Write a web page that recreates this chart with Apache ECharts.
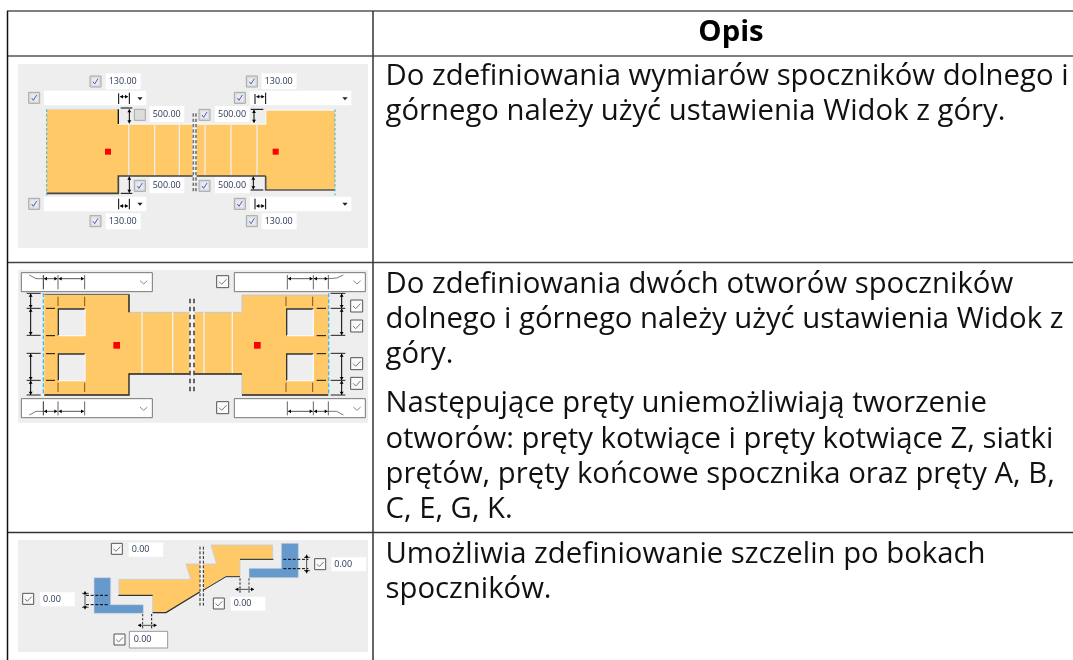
<!DOCTYPE html>
<html><head><meta charset="utf-8">
<style>html,body{margin:0;padding:0;background:#fff}#c{width:1073px;height:660px}</style>
<script src="https://cdn.jsdelivr.net/npm/echarts@6/dist/echarts.min.js"></script></head>
<body><div id="c"></div>
<script>
const headerLabel = 'Opis';
const row1Lines = ['Do zdefiniowania wymiarów spoczników dolnego i','górnego należy użyć ustawienia Widok z góry.'];
const row2LinesA = ['Do zdefiniowania dwóch otworów spoczników','dolnego i górnego należy użyć ustawienia Widok z','góry.'];
const row2LinesB = ['Następujące pręty uniemożliwiają tworzenie','otworów: pręty kotwiące i pręty kotwiące Z, siatki','prętów, pręty końcowe spocznika oraz pręty A, B,','C, E, G, K.'];
const row3Lines = ['Umożliwia zdefiniowanie szczelin po bokach','spoczników.'];
const widthLabel = '130.00', depthLabel = '500.00', gapLabel = '0.00';

const FONT = '"Open Sans"';
const chart = echarts.init(document.getElementById('c'), null, {renderer:'canvas'});
const pts = a => ({points:a});
function rect(x,y,w,h,fill,stroke,lw){return {type:'rect',shape:{x,y,width:w,height:h},style:{fill:fill||'none',stroke:stroke||null,lineWidth:lw||0},silent:true};}
function ln(x1,y1,x2,y2,c,lw,dash){return {type:'line',shape:{x1,y1,x2,y2},style:{stroke:c||'#000',lineWidth:lw||3,lineDash:dash||null},silent:true};}
function poly(a,fill,stroke,lw){return {type:'polygon',shape:pts(a),style:{fill:fill||'none',stroke:stroke||null,lineWidth:lw||0},silent:true};}
function pl(a,c,lw){return {type:'polyline',shape:pts(a),style:{fill:'none',stroke:c||'#000',lineWidth:lw||3},silent:true};}
function txt(x,y,s,size,color,weight,align){return {type:'text',x,y,style:{text:s,font:(weight||'normal')+' '+size+'px '+FONT,fill:color||'#000',align:align||'left',verticalAlign:'middle'},silent:true};}
function arrowH(x,y,dir,s){s=s||9;return poly([[x,y],[x-dir*s,y-s*0.65],[x-dir*s,y+s*0.65]],'#000');}
function arrowV(x,y,dir,s){s=s||9;return poly([[x,y],[x-s*0.65,y-dir*s],[x+s*0.65,y-dir*s]],'#000');}
function dimV(x,y1,y2,lw){return [ln(x,y1,x,y2,'#000',lw||3),arrowV(x,y1,-1),arrowV(x,y2,1)];}
function dimH(x1,x2,y,lw){return [ln(x1,y,x2,y,'#000',lw||3),arrowH(x1,y,-1),arrowH(x2,y,1)];}
function checkBlue(x,y,on){const e=[rect(x,y,33,33,'#dcdcdc','#a8a8a8',3)];
  if(on!==false){e.push(rect(x+6,y+6,21,21,'#e9eaf2'));e.push(pl([[x+9,y+17],[x+14,y+24],[x+24,y+8]],'#4a62b0',3));}return e;}
function checkGray(x,y,s){s=s||36;return [rect(x,y,s,s,'#fafafa','#555',3),pl([[x+s*0.2,y+s*0.5],[x+s*0.42,y+s*0.72],[x+s*0.82,y+s*0.3]],'#777',3)];}
function input(x,y,w,h,s,tx){return [rect(x,y,w,h,'#fff'),txt(tx||x+9,y+h/2,s,27,'#2a3a55')];}
function chevron(x,y){return pl([[x-11,y-5],[x,y+5],[x+11,y-5]],'#888',3);}
function tri(x,y){return poly([[x-8,y-4],[x+8,y-4],[x,y+5]],'#222');}
function group(ox,oy,children){return {type:'group',x:ox,y:oy,scaleX:1/3,scaleY:1/3,children:children.flat(3),silent:true};}

// ---------- row 1 diagram ----------
const d1=[];
d1.push(rect(54,42,1050,552,'#eeeeee'));
d1.push(poly([[140,178],[355,178],[355,222],[578,222],[578,378],[355,378],[355,430],[140,430]],'#fec966'));
d1.push(poly([[590,222],[797,222],[797,180],[1005,180],[1005,420],[797,420],[797,378],[590,378]],'#fec966'));
d1.push(pl([[140,178],[355,178]],'#d8d8d8',3),pl([[355,222],[578,222]],'#f6f6f6',4),pl([[590,222],[797,222],[797,180],[1005,180]],'#f6f6f6',4));
[386,464,538,615,693,771].forEach(x=>d1.push(ln(x,222,x,378,'#ececec',4)));
d1.push(rect(578,186,12,240,'#f4f4f4'));
d1.push(ln(580,190,580,426,'#777',5,[10,6]),ln(588,190,588,426,'#777',5,[10,6]));
d1.push(ln(355,178,355,222,'#111',4));
d1.push(pl([[140,430],[355,430],[355,378],[578,378]],'#444',5),pl([[590,378],[797,378]],'#444',5),pl([[797,378],[797,420],[1005,420]],'#555',5));
d1.push(ln(140,178,140,436,'#36b4e6',3,[8,6]),ln(1005,178,1005,436,'#36b4e6',3,[8,6]));
d1.push(rect(315,296,18,18,'#ff0000'),rect(818,296,18,18,'#ff0000'));
d1.push(ln(362,174,397,174,'#000',3),dimV(388,178,220),ln(362,430,397,430,'#000',3),dimV(388,380,428));
d1.push(ln(752,178,790,178,'#000',3),dimV(762,180,218),ln(752,420,790,420,'#000',3),dimV(760,380,418));
[[270,78],[739,78],[86,127],[703,127],[597,178],[403,391],[597,391],[86,445],[703,445],[270,497],[739,497]].forEach(p=>d1.push(checkBlue(p[0],p[1])));
d1.push(checkBlue(403,178,false));
[[317,70],[785,70],[317,490],[785,490]].forEach(p=>d1.push(input(p[0],p[1],105,48,widthLabel)));
[[449,168],[645,168],[449,382],[645,382]].forEach(p=>d1.push(input(p[0],p[1],104,48,depthLabel)));
[[132,122,307],[749,122,305],[132,440,307],[749,440,305]].forEach(p=>d1.push(rect(p[0],p[1],p[2],44,'#fff')));
[[420,146],[1035,146],[420,462],[1035,462]].forEach(p=>d1.push(tri(p[0],p[1])));
d1.push(ln(356,130,356,162,'#000',3),ln(388,128,388,162,'#000',3),dimH(360,384,140,2));
d1.push(ln(765,132,765,162,'#000',3),ln(797,128,797,162,'#000',3),dimH(769,793,140,2));
d1.push(ln(356,446,356,478,'#000',3),ln(388,446,388,478,'#000',3),dimH(360,384,468,2));
d1.push(ln(765,446,765,478,'#000',3),ln(797,446,797,478,'#000',3),dimH(769,793,468,2));

// ---------- row 2 diagram ----------
const d2=[];
d2.push(rect(54,30,1050,458,'#eeeeee'));
d2.push(poly([[133,105],[387,105],[387,157],[726,157],[726,105],[985,105],[985,405],[726,405],[726,342],[387,342],[387,405],[133,405]],'#fec966'));
d2.push(pl([[387,157],[726,157],[726,105],[985,105]],'#c8c8c8',3),pl([[726,342],[726,405]],'#c8c8c8',3));
[426,518,612,697].forEach(x=>d2.push(ln(x,157,x,342,'#f2f2f2',4)));
[[175,147],[175,282],[860,147],[860,282]].forEach(p=>{
  d2.push(rect(p[0],p[1],80,80,'#eeeeee'));
  d2.push(pl([[p[0],p[1]+80],[p[0],p[1]],[p[0]+80,p[1]]],'#333',4),pl([[p[0]+80,p[1]],[p[0]+80,p[1]+80],[p[0],p[1]+80]],'#fafafa',4));
});
d2.push(rect(568,150,16,198,'#f4f4f4'));
d2.push(ln(570,116,570,402,'#666',6,[14,10]),ln(582,116,582,402,'#666',6,[14,10]));
d2.push(ln(387,103,387,157,'#111',4),pl([[133,405],[387,405],[387,342],[568,342]],'#222',4),pl([[584,342],[726,342]],'#222',4),ln(726,405,985,405,'#222',4),ln(133,103,387,103,'#555',3));
d2.push(ln(130,100,130,406,'#4ab8e6',4,[12,6]),ln(986,100,986,406,'#4ab8e6',4,[12,6]));
d2.push(rect(340,246,20,20,'#ff0000'),rect(762,246,20,20,'#ff0000'));
[174,254,858,938].forEach(x=>{d2.push(ln(x,110,x,138,'#7a5a20',3),ln(x,368,x,396,'#7a5a20',3));});
[145,227,281,361].forEach(y=>{d2.push(ln(138,y,165,y,'#111',3),ln(950,y,978,y,'#111',3));});
[100,145,226,280,361,405].forEach(y=>{d2.push(ln(80,y,122,y,'#222',3),ln(992,y,1036,y,'#222',3));});
[[92,100,145],[92,145,226],[92,280,361],[92,361,405],[1025,100,145],[1025,145,226],[1025,280,361],[1025,361,405]].forEach(a=>d2.push(dimV(a[0],a[1]+1,a[2]-1)));
[[64,38],[703,38],[64,416],[703,416]].forEach(p=>d2.push(rect(p[0],p[1],393,57,'#fff','#777',3)));
[[431,67],[1071,67],[431,446],[1071,446]].forEach(p=>d2.push(chevron(p[0],p[1])));
[[650,47],[650,425],[1052,120],[1052,180],[1052,293],[1052,352]].forEach(p=>d2.push(checkGray(p[0],p[1])));
[130,174,254].forEach(x=>{d2.push(ln(x,45,x,88,x===130?'#333':'#666',3),ln(x,424,x,466,x===130?'#333':'#666',3));});
[862,940,985].forEach(x=>{d2.push(ln(x,45,x,88,'#666',3),ln(x,424,x,466,'#666',3));});
d2.push(pl([[88,45],[108,56],[130,56]],'#333',2),pl([[88,465],[108,454],[130,454]],'#333',2),pl([[985,56],[1010,54],[1030,45]],'#333',2),pl([[985,454],[1010,454],[1030,465]],'#333',2));
d2.push(dimH(132,172,56,2),dimH(176,252,56,2),dimH(132,172,454,2),dimH(176,252,454,2),dimH(864,938,56,2),dimH(942,983,56,2),dimH(864,938,454,2),dimH(942,983,454,2));

// ---------- row 3 diagram ----------
const d3=[];
d3.push(rect(54,30,1050,336,'#eeeeee'));
d3.push(poly([[357,148],[572,148],[558,102],[650,102],[633,45],[818,45],[818,88],[720,88],[720,140],[678,140],[498,248],[458,248],[458,196],[357,196]],'#fec966','#cfcfcf',3));
d3.push(poly([[282,143],[332,143],[332,224],[430,224],[430,250],[282,250]],'#6699cc','#d0d8e0',2));
d3.push(poly([[844,40],[895,40],[895,143],[747,143],[747,115],[844,115]],'#6699cc','#d0d8e0',2));
d3.push(rect(599,50,12,182,'#f4f4f4'));
d3.push(ln(600,50,600,232,'#222',3,[9,5]),ln(610,50,610,232,'#222',3,[9,5]));
d3.push(ln(355,196,458,196,'#111',3),pl([[458,248],[498,248],[599,186]],'#333',4),pl([[611,180],[678,140],[720,140]],'#333',3),ln(720,88,820,88,'#222',3));
d3.push(ln(258,196,325,196,'#000',3,[9,5]),ln(258,224,325,224,'#000',3,[9,5]),dimV(255,184,238,2),ln(246,190,266,190,'#000',2),ln(246,232,266,232,'#000',2));
d3.push(ln(850,88,925,88,'#000',3,[9,5]),ln(850,116,925,116,'#000',3,[9,5]),dimV(920,74,130,2),ln(912,82,930,82,'#000',2),ln(912,122,930,122,'#000',2));
d3.push(ln(428,252,428,295,'#333',3,[7,5]),ln(455,252,455,295,'#111',3,[7,5]),dimH(414,470,286,2));
d3.push(ln(720,145,720,188,'#111',3,[7,5]),ln(747,145,747,188,'#333',3,[7,5]),dimH(706,762,178,2));
[[334,40],[944,86],[68,190],[640,204],[342,312]].forEach(p=>d3.push(checkGray(p[0],p[1],33)));
[[386,38],[994,82],[120,187],[692,200]].forEach(p=>d3.push(input(p[0],p[1],104,42,gapLabel)));
d3.push(rect(388,304,115,50,'#fff','#999',3),txt(401,329,gapLabel,27,'#2a3a55'));

// ---------- table ----------
const els=[
  group(0,50,d1),group(0,260,d2),group(0,530,d3),
  ln(7,11,1073,11,'#555',1.5),ln(7,56,1073,56,'#555',1.5),ln(7,262.5,1073,262.5,'#444',1.5),ln(7,532.5,1073,532.5,'#333',1.5),
  ln(7.5,11,7.5,660,'#111',1.5),ln(373,11,373,660,'#333',1.5),
  txt(731,33,headerLabel,29.3,'#000','bold','center')
];
const lh=35.3;
function block(lines,y){lines.forEach((s,i)=>els.push(txt(385.5,y+i*lh,s,29.3,'#111')));}
block(row1Lines,76.5);block(row2LinesA,284.5);block(row2LinesB,404);block(row3Lines,554.5);
chart.setOption({animation:false,backgroundColor:'#fff',graphic:{elements:els}});
</script></body></html>
